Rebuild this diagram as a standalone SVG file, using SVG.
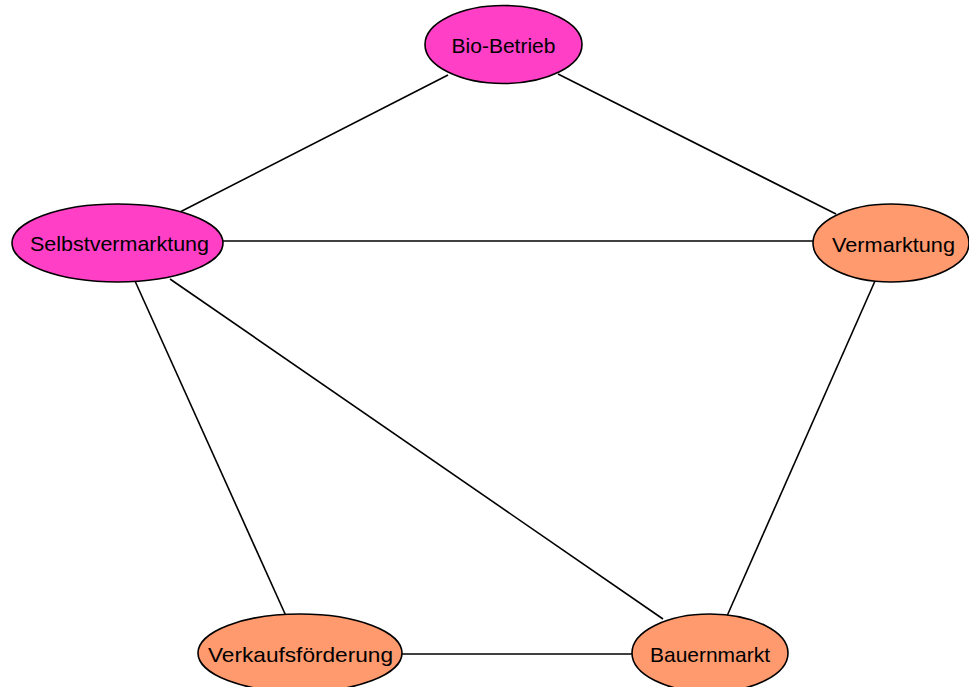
<svg xmlns="http://www.w3.org/2000/svg" width="969" height="687" viewBox="0 0 969 687">
<style>
.e{stroke:#000;stroke-width:1.6;fill:none}
.n ellipse{stroke:#000;stroke-width:1.6}
.m{fill:#ff3fc6}
.o{fill:#ff996e}
text{font-family:"Liberation Sans",Arial,sans-serif;font-size:21px;fill:#000;text-anchor:middle}
</style>
<rect width="969" height="687" fill="#fff"/>
<g id="edges">
<line class="e" x1="448" y1="75" x2="180" y2="212"/>
<line class="e" x1="558" y1="74" x2="836" y2="214"/>
<line class="e" x1="223" y1="241" x2="813" y2="241"/>
<line class="e" x1="135" y1="281" x2="286" y2="616"/>
<line class="e" x1="170" y1="279" x2="663" y2="619"/>
<line class="e" x1="875" y1="281" x2="727" y2="616"/>
<line class="e" x1="402" y1="654" x2="632" y2="654"/>
</g>
<g id="bio-betrieb" class="n"><ellipse class="m" cx="503.5" cy="44.5" rx="78.5" ry="39"/><text x="503.5" y="53" textLength="104" lengthAdjust="spacingAndGlyphs">Bio-Betrieb</text></g>
<g id="selbstvermarktung" class="n"><ellipse class="m" cx="117.5" cy="243" rx="105.5" ry="39"/><text x="119.5" y="251" textLength="179" lengthAdjust="spacingAndGlyphs">Selbstvermarktung</text></g>
<g id="vermarktung" class="n"><ellipse class="o" cx="891" cy="243" rx="78" ry="39"/><text x="893.5" y="251.5" textLength="123" lengthAdjust="spacingAndGlyphs">Vermarktung</text></g>
<g id="verkaufsfoerderung" class="n"><ellipse class="o" cx="300" cy="653" rx="102" ry="39"/><text x="300.5" y="661.5" textLength="185" lengthAdjust="spacingAndGlyphs">Verkaufsförderung</text></g>
<g id="bauernmarkt" class="n"><ellipse class="o" cx="710" cy="653" rx="78" ry="39"/><text x="710" y="661.5" textLength="120" lengthAdjust="spacingAndGlyphs">Bauernmarkt</text></g>
</svg>
